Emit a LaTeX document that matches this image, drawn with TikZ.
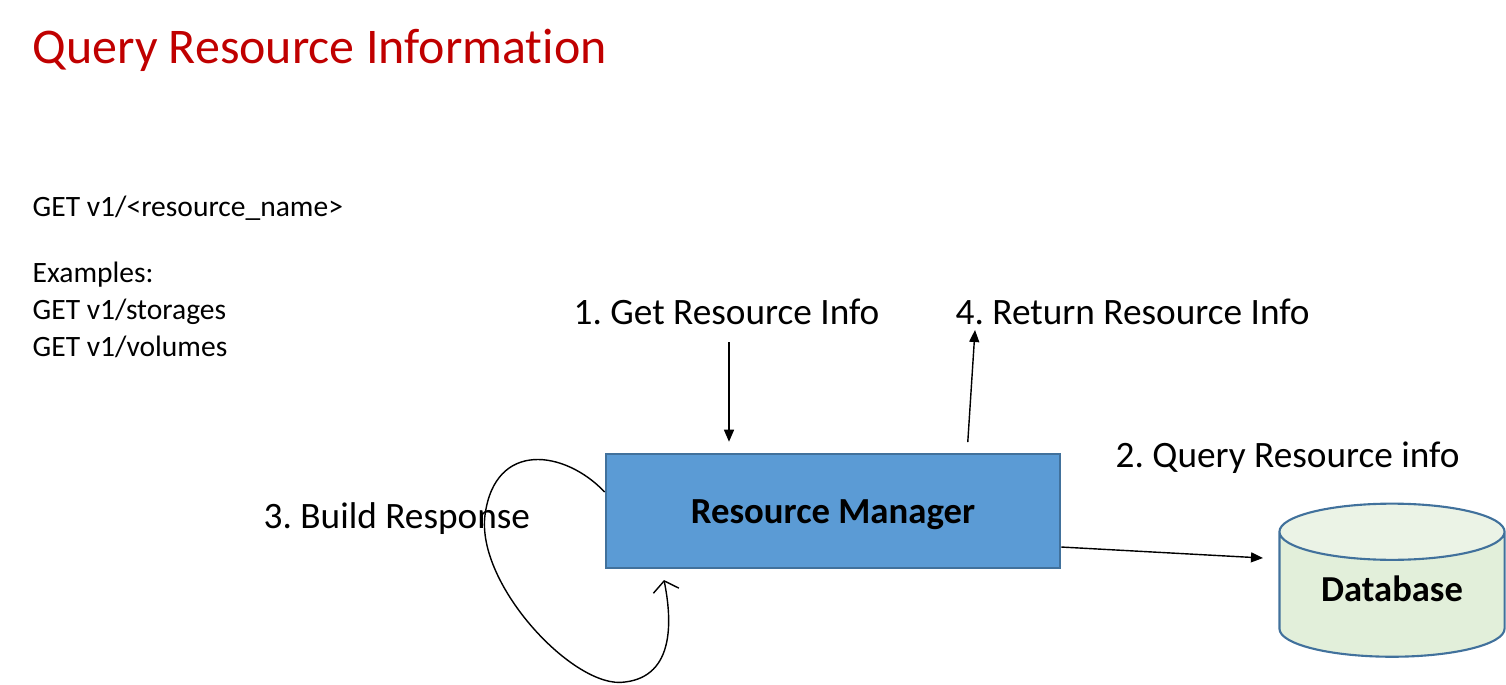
\documentclass[tikz,border=0pt]{standalone}
\usepackage{fontspec}
\setmainfont[Ligatures=NoCommon]{Carlito}
\usetikzlibrary{arrows.meta,shapes.geometric}
\definecolor{titlered}{HTML}{C00000}
\definecolor{boxblue}{HTML}{5B9BD5}
\definecolor{boxline}{HTML}{41719C}
\definecolor{dbtop}{HTML}{EBF3E6}
\definecolor{dbbody}{HTML}{E2EFDA}
\frenchspacing

\begin{document}
\begin{tikzpicture}[x=0.01cm,y=-0.01cm]
    \useasboundingbox (0,0) rectangle (1506,684);
    \tikzset{txt/.style = {anchor=base west, inner sep=0pt},
        smalltxt/.style = {txt, font=\fontsize{8.4}{10}\selectfont},
        steptxt/.style = {txt, font=\fontsize{10.6}{13}\selectfont},
        stepline/.style = {line width=0.4pt, -{Triangle[length=0.12cm,width=0.1cm]}},
        ManagerStyle/.style = {%
            rectangle, fill=boxblue, draw=boxline, line width=0.7pt,
            minimum width=4.54cm, minimum height=1.14cm,
            text height=0.24cm, text depth=0cm,
            font=\fontsize{10.45}{12}\selectfont\bfseries},
        DatabaseStyle/.style = {%
            cylinder, shape border rotate=90, aspect=0.34,
            cylinder uses custom fill, cylinder end fill=dbtop,
            cylinder body fill=dbbody, draw=boxline, line width=0.6pt,
            minimum width=2.25cm, minimum height=1.53cm,
            text height=0.23cm, text depth=0.22cm,
            font=\fontsize{10.4}{12}\selectfont\bfseries}}
    % title and request text
    \node[txt, text=titlered, font=\fontsize{14.2}{17}\selectfont] (title) at (32,63) {Query Resource Information};
    \node[smalltxt] (req) at (32,216) {GET v1/<resource\_name>};
    \node[smalltxt] (ex) at (32,282) {Examples:};
    \node[smalltxt] (exa) at (32,319) {GET v1/storages};
    \node[smalltxt] (exb) at (32,356) {GET v1/volumes};
    % boxes
    \node[ManagerStyle] (manager) at (833,511) {Resource Manager};
    \node[DatabaseStyle] (database) at (1392,601) {Database};
    % step labels
    \node[steptxt] (step1) at (573,324) {1. Get Resource Info};
    \node[steptxt] (step4) at (955,324) {4. Return Resource Info};
    \node[steptxt] (step2) at (1115,467) {2. Query Resource info};
    \node[steptxt] (step3) at (263,528) {3. Build Response};
    \coordinate (getin) at (729,342);
    \coordinate (retfoot) at (967,454);
    \coordinate (retout) at (975,330);
    \coordinate (dbin) at (1263,558);
    \coordinate (loopend) at (664,580);
    \draw[stepline, shorten >=0.11cm] (getin) -- (getin |- manager.north);
    \draw[stepline, shorten <=0.12cm] (retfoot) -- (retout);
    \draw[stepline] ([yshift=-0.36cm]manager.east) -- (dbin);
    \draw[line width=0.4pt, -{Straight Barb[length=0.1cm,width=0.26cm]}]
        ([yshift=0.19cm]manager.west) .. controls (565,450) and (495,440) .. (485,515)
        .. controls (476,585) and (575,690) .. (625,682)
        .. controls (675,676) and (672,620) .. (loopend);
\end{tikzpicture}
\end{document}
